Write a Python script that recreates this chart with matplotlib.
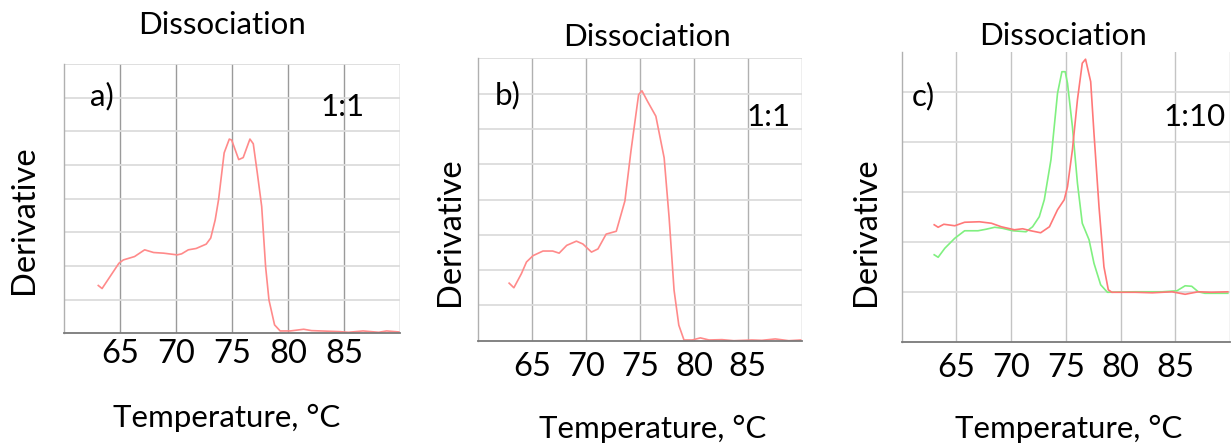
import matplotlib.pyplot as plt

W, H = 1231, 447

# ---------------------------------------------------------------
# Melt-curve traces (x in degC, y in grid units)
# ---------------------------------------------------------------
a_temp = [63.06, 63.4, 64.1, 64.9, 65.3, 66.3, 67.2, 68.0, 68.9, 70.1, 70.5,
          71.1, 71.8, 72.7, 73.1, 73.5, 73.8, 74.3, 74.76, 74.97, 75.6, 76.0,
          76.6, 76.9, 77.26, 77.65, 78.0, 78.3, 78.8, 79.3, 80.2, 81.4, 82.1,
          84.6, 85.4, 86.7, 88.1, 88.8, 89.9]
a_deriv = [1.42, 1.33, 1.68, 2.08, 2.18, 2.28, 2.48, 2.40, 2.38, 2.33, 2.36,
           2.48, 2.52, 2.65, 2.83, 3.37, 3.97, 5.36, 5.77, 5.74, 5.16, 5.22,
           5.77, 5.63, 4.76, 3.77, 1.98, 0.99, 0.25, 0.07, 0.07, 0.12, 0.08,
           0.05, 0.03, 0.07, 0.03, 0.07, 0.04]

b_temp = [62.86, 63.3, 64.0, 64.47, 65.08, 66.0, 66.9, 67.5, 68.2, 69.1, 69.7,
          70.5, 71.1, 71.86, 72.8, 73.6, 74.16, 74.87, 75.18, 75.7, 76.47,
          77.24, 77.7, 78.16, 78.6, 79.08, 79.85, 80.6, 81.4, 82.6, 83.7, 85.4,
          86.3, 87.55, 88.8, 89.9]
b_deriv = [1.63, 1.50, 1.90, 2.23, 2.41, 2.54, 2.54, 2.48, 2.70, 2.82, 2.74,
           2.51, 2.60, 3.02, 3.10, 3.96, 5.37, 6.97, 7.08, 6.78, 6.36, 5.18,
           3.49, 1.43, 0.44, 0.02, 0.02, 0.08, 0.02, 0.03, 0.0, 0.02, 0.01,
           0.05, 0.0, 0.02]

c_red_temp = [62.97, 63.33, 63.85, 64.85, 65.75, 67.1, 68.2, 69.1, 70.3, 71.05,
              71.8, 72.7, 73.5, 74.24, 74.85, 75.15, 75.6, 76.06, 76.5, 76.8,
              77.27, 77.57, 78.03, 78.48, 78.88, 79.2, 81.36, 82.9, 84.7, 85.9,
              87.1, 88.3, 89.8]
c_red_deriv = [2.35, 2.30, 2.36, 2.33, 2.40, 2.41, 2.38, 2.31, 2.25, 2.27,
               2.23, 2.19, 2.31, 2.65, 2.85, 3.11, 3.85, 4.85, 5.58, 5.66,
               5.21, 4.18, 2.71, 1.51, 1.05, 1.0, 1.0, 0.99, 1.01, 0.96,
               1.01, 1.0, 1.01]

c_green_temp = [62.97, 63.33, 63.94, 64.85, 65.75, 66.97, 67.7, 68.5, 69.2,
                70.15, 71.36, 71.96, 72.57, 73.03, 73.64, 74.24, 74.64, 74.94,
                75.15, 75.6, 76.06, 76.5, 77.12, 77.57, 78.18, 78.8, 81.36,
                83.8, 85.15, 85.9, 86.5, 87.1, 87.7, 89.8]
c_green_deriv = [1.75, 1.70, 1.88, 2.08, 2.23, 2.23, 2.26, 2.30, 2.28, 2.23,
                 2.21, 2.31, 2.51, 2.85, 3.65, 4.98, 5.41, 5.41, 5.18, 4.31,
                 3.18, 2.38, 2.05, 1.58, 1.15, 1.0, 1.01, 1.01, 1.03, 1.13,
                 1.12, 1.01, 0.98, 0.98]

x_ticks = [65, 70, 75, 80, 85]
x_tick_labels = ["65", "70", "75", "80", "85"]

RED = "#ff8a8a"
RED_C = "#ff7878"
GREEN = "#80f080"


def px(x, y):
    return x / W, 1 - y / H


def main():
    plt.rcParams["font.family"] = ["Lato", "DejaVu Sans"]

    fig = plt.figure(figsize=(W / 100, H / 100), dpi=100)

    # panel boxes in pixels: left, top, right, bottom
    boxes = [(64, 64, 400, 333.3), (478.3, 58.3, 801.7, 340.7),
             (901.7, 51.7, 1230, 342.3)]
    ytops = [8.0, 8.0, 5.81]
    vgrid = ["#9a9a9a", "#b0b0b0", "#c4c4c4"]
    tick_pads = [4, 8, 8]

    axes = []
    for (l, t, r, b), ytop, vg, pad in zip(boxes, ytops, vgrid, tick_pads):
        ax = fig.add_axes([l / W, 1 - b / H, (r - l) / W, (b - t) / H])
        ax.set_xlim(60, 90)
        ax.set_ylim(0, ytop)
        for xv in [65, 70, 75, 80, 85, 90]:
            ax.axvline(xv, color=vg, lw=1.0, zorder=0)
        for yv in range(1, int(ytop) + 1):
            ax.axhline(yv, color="#dcdcdc", lw=1.3, zorder=0)
        ax.set_xticks(x_ticks)
        ax.set_xticklabels(x_tick_labels, fontsize=23.5)
        ax.set_yticks([])
        ax.tick_params(axis="x", length=0, pad=pad)
        for s in ["top", "right"]:
            ax.spines[s].set_visible(False)
        ax.spines["bottom"].set_color("#7a7a7a")
        ax.spines["bottom"].set_linewidth(1.3)
        ax.spines["left"].set_color("#b0b0b0")
        ax.spines["left"].set_linewidth(1.0)
        axes.append(ax)

    axes[0].plot(a_temp, a_deriv, color=RED, lw=1.2)
    axes[1].plot(b_temp, b_deriv, color=RED, lw=1.2)
    axes[2].plot(c_green_temp, c_green_deriv, color=GREEN, lw=1.2)
    axes[2].plot(c_red_temp, c_red_deriv, color=RED_C, lw=1.2)

    # texts placed in pixel positions
    titles = [(222, 25), (647, 37), (1063, 36)]
    letters = [("a)", 90, 96), ("b)", 495, 95), ("c)", 912, 96)]
    ratios = [("1:1", 343, 107), ("1:1", 769, 117), ("1:10", 1195, 117)]
    ylabels = [(24, 220), (450, 232), (866, 232)]
    xlabels = [(227, 418), (653, 429), (1069, 429)]

    for x, y in titles:
        fig.text(*px(x, y), "Dissociation", fontsize=22.5, ha="center", va="center")
    for s, x, y in letters:
        fig.text(*px(x, y), s, fontsize=22.5, ha="left", va="center")
    for s, x, y in ratios:
        fig.text(*px(x, y), s, fontsize=22.5, ha="center", va="center")
    for x, y in ylabels:
        fig.text(*px(x, y), "Derivative", fontsize=23.5, ha="center", va="center",
                 rotation=90)
    for x, y in xlabels:
        fig.text(*px(x, y), "Temperature, °C", fontsize=22.5, ha="center",
                 va="center")

    fig.savefig("out.png", dpi=100, facecolor="white")
    plt.close(fig)


if __name__ == "__main__":
    main()
